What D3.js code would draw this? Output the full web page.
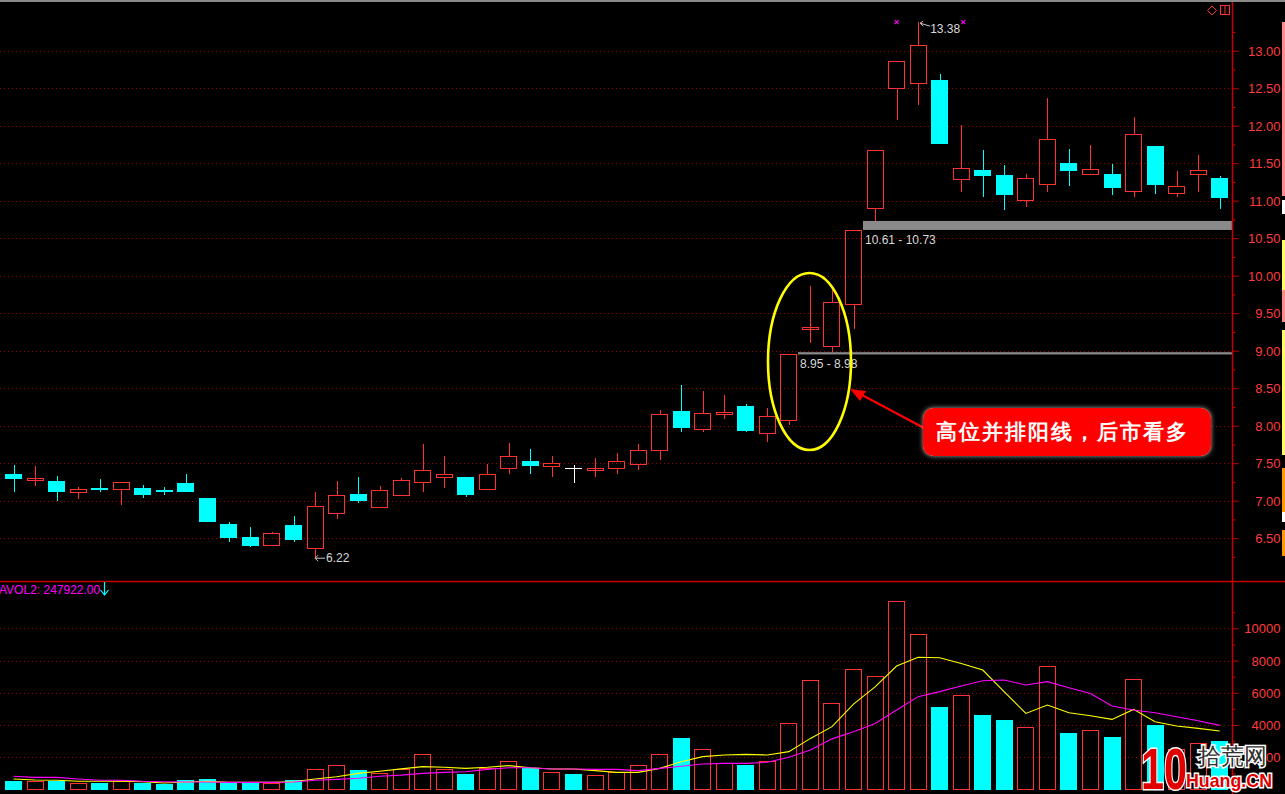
<!DOCTYPE html>
<html>
<head>
<meta charset="utf-8">
<script src="https://cdn.jsdelivr.net/npm/d3@7/dist/d3.min.js"></script>
<style>
  html, body { margin: 0; padding: 0; background: #000; overflow: hidden; }
  svg { display: block; }
  text { font-family: "Liberation Sans", Arial, sans-serif; }
</style>
</head>
<body>
<svg id="chart" width="1285" height="794"></svg>
<script>
// ---------------- DATA ----------------
const openP  = [7.36,7.29,7.26,7.11,7.17,7.15,7.17,7.14,7.24,7.04,6.69,6.52,6.41,6.68,6.37,6.83,7.09,6.91,7.08,7.25,
                7.31,7.31,7.16,7.44,7.53,7.46,7.44,7.42,7.43,7.49,7.67,8.19,7.96,8.16,8.26,7.90,8.08,9.30,9.06,9.62,
                10.90,12.50,12.57,12.61,11.29,11.41,11.34,11.01,11.22,11.50,11.35,11.36,11.13,11.73,11.10,11.35,11.30];
const highP  = [7.48,7.46,7.33,7.18,7.29,7.25,7.21,7.18,7.36,7.04,6.72,6.65,6.58,6.80,7.12,7.26,7.31,7.20,7.30,7.76,
                7.59,7.31,7.49,7.77,7.69,7.59,7.47,7.57,7.64,7.76,8.21,8.54,8.46,8.41,8.29,8.24,8.95,9.86,9.81,10.61,
                11.68,12.86,13.38,12.69,12.01,11.68,11.48,11.36,12.37,11.69,11.74,11.49,12.11,11.73,11.39,11.61,11.33];
const lowP   = [7.11,7.19,7.00,7.02,7.12,6.94,7.04,7.08,7.11,6.71,6.45,6.38,6.41,6.45,6.22,6.76,6.97,6.91,7.08,7.11,
                7.17,7.05,7.15,7.36,7.36,7.31,7.23,7.31,7.36,7.41,7.54,7.91,7.91,8.09,7.92,7.78,8.01,9.10,8.98,9.29,
                10.73,12.07,12.28,11.76,11.12,11.05,10.87,10.92,11.12,11.20,11.35,11.08,11.05,11.09,11.05,11.11,10.89];
const closeP = [7.29,7.30,7.11,7.15,7.14,7.25,7.08,7.11,7.11,6.72,6.50,6.40,6.57,6.47,6.93,7.08,6.99,7.14,7.27,7.41,
                7.35,7.07,7.36,7.59,7.46,7.50,7.44,7.44,7.53,7.68,8.15,7.97,8.17,8.18,7.93,8.13,8.95,9.32,9.65,10.61,
                11.68,12.86,13.08,11.76,11.44,11.33,11.08,11.30,11.82,11.40,11.42,11.17,11.89,11.21,11.20,11.41,11.04];
const volume = [527,527,527,403,403,527,403,341,590,651,403,403,403,590,1250,1500,1210,1000,1250,2190,
                1250,960,1310,1750,1350,1065,960,900,1065,1500,2190,3200,2490,1625,1520,1750,4110,6780,5350,7450,
                7020,11670,9620,5120,5840,4620,4310,3860,7640,3500,3670,3260,6830,4000,2500,2870,3000];
const volMA5  = [650,590,570,510,510,510,480,400,465,510,445,445,445,480,650,795,1000,1130,1280,1420,
                 1380,1310,1380,1480,1350,1270,1270,1170,1060,1060,1310,1720,2040,2140,2180,2140,2350,3170,3900,5300,
                 6370,7660,8200,8170,7820,7410,6060,4720,5240,4760,4580,4350,4970,4200,3940,3790,3630];
const volMA10 = [820,755,755,650,570,570,510,480,465,465,445,445,445,465,570,630,695,820,890,1000,
                 1060,1100,1250,1350,1350,1270,1270,1250,1250,1170,1310,1440,1580,1620,1620,1690,2000,2450,3140,3580,
                 4100,4930,5760,6070,6420,6750,6790,6480,6690,6310,5960,5180,4930,4760,4510,4270,3980];
const priceTicks = [6.5,7.0,7.5,8.0,8.5,9.0,9.5,10.0,10.5,11.0,11.5,12.0,12.5,13.0];
const priceMinorTicks = [6.25,6.75,7.25,7.75,8.25,8.75,9.25,9.75,10.25,10.75,11.25,11.75,12.25,12.75,13.25];
const volTicks = [2000,4000,6000,8000,10000];
const volMinorTicks = [1000,3000,5000,7000,9000,11000];
const gapBands = [ {lo: 8.95, hi: 8.98, from: 36, label: "8.95 - 8.98"},
                   {lo: 10.61, hi: 10.73, from: 39, label: "10.61 - 10.73"} ];
const maxIdx = 42, minIdx = 14;
const volLabel = "AVOL2: 247922.00";
const calloutText = "高位并排阳线，后市看多";

// ---------------- SETUP ----------------
const W = 1285, H = 794;
const svg = d3.select("#chart");
const RED = "#ff3232", CYAN = "#00ffff", GRID = "#a00000", AXIS = "#c80000", LABEL = "#ff3c3c";
const n = openP.length;
const x = d3.scalePoint().domain(d3.range(n)).range([13.5, 1219.7]);
const y = d3.scaleLinear().domain([6.5, 13]).range([538.2, 50.7]);
const yv = d3.scaleLinear().domain([0, 10000]).range([789.5, 628.3]);
const axisX = 1232.5;
const BW = 17;

svg.append("rect").attr("width", W).attr("height", H).attr("fill", "#000");
svg.append("rect").attr("x", 0).attr("y", 0).attr("width", W).attr("height", 2).attr("fill", "#8a8a8a");

// grid lines
const grid = svg.append("g").attr("shape-rendering", "crispEdges");
grid.selectAll("line.pg").data(priceTicks).join("line")
  .attr("x1", 0).attr("x2", axisX - 1)
  .attr("y1", d => Math.round(y(d)) + 0.5).attr("y2", d => Math.round(y(d)) + 0.5)
  .attr("stroke", GRID).attr("stroke-dasharray", "1,3");
grid.selectAll("line.vg").data(volTicks).join("line")
  .attr("x1", 0).attr("x2", axisX - 1)
  .attr("y1", d => Math.round(yv(d)) + 0.5).attr("y2", d => Math.round(yv(d)) + 0.5)
  .attr("stroke", GRID).attr("stroke-dasharray", "1,3");

// panel separator
svg.append("line").attr("x1", 0).attr("x2", W).attr("y1", 581.5).attr("y2", 581.5)
  .attr("stroke", AXIS).attr("stroke-width", 1.5);

// gap bands
const bands = svg.append("g");
gapBands.forEach(b => {
  const x0 = Math.round(x(b.from) + BW / 2) + 1;
  const yTop = y(b.hi), yBot = y(b.lo);
  bands.append("rect").attr("x", x0).attr("y", yTop)
    .attr("width", axisX - x0).attr("height", Math.max(1.2, yBot - yTop))
    .attr("fill", "#8a8a8a");
  bands.append("text").attr("x", x0 + 2).attr("y", yBot + 14)
    .attr("fill", "#d8d8d8").attr("font-size", 12).text(b.label);
});

// candles
const cg = svg.append("g").attr("shape-rendering", "crispEdges");
d3.range(n).forEach(i => {
  const o = openP[i], c = closeP[i], h = highP[i], l = lowP[i];
  const cx = Math.round(x(i)) + 0.5;
  const left = Math.round(x(i) - BW / 2);
  const yTop = Math.round(y(Math.max(o, c))), yBot = Math.round(y(Math.min(o, c)));
  if (c > o) {
    if (y(h) < yTop) cg.append("line").attr("x1", cx).attr("x2", cx).attr("y1", y(h)).attr("y2", yTop).attr("stroke", RED).attr("stroke-width", 1.3);
    if (y(l) > yBot) cg.append("line").attr("x1", cx).attr("x2", cx).attr("y1", yBot).attr("y2", y(l)).attr("stroke", RED).attr("stroke-width", 1.3);
    cg.append("rect").attr("x", left + 0.5).attr("y", yTop + 0.5)
      .attr("width", BW - 1).attr("height", Math.max(2, yBot - yTop))
      .attr("fill", "none").attr("stroke", RED).attr("stroke-width", 1.3);
  } else if (c < o) {
    cg.append("line").attr("x1", cx).attr("x2", cx).attr("y1", y(h)).attr("y2", y(l)).attr("stroke", CYAN).attr("stroke-width", 1.3);
    cg.append("rect").attr("x", left).attr("y", yTop)
      .attr("width", BW).attr("height", Math.max(2, yBot - yTop)).attr("fill", CYAN);
  } else {
    cg.append("line").attr("x1", cx).attr("x2", cx).attr("y1", y(h)).attr("y2", y(l)).attr("stroke", "#fff").attr("stroke-width", 1.3);
    cg.append("line").attr("x1", left).attr("x2", left + BW).attr("y1", yTop + 0.5).attr("y2", yTop + 0.5).attr("stroke", "#fff").attr("stroke-width", 1.3);
  }
});

// high / low marks
const hx = x(maxIdx), hy = y(highP[maxIdx]);
svg.append("path").attr("d", `M${hx + 2},${hy + 1} l10,3 M${hx + 2},${hy + 1} l3,-2 M${hx + 2},${hy + 1} l3,3`)
  .attr("stroke", "#c8c8c8").attr("fill", "none");
svg.append("text").attr("x", hx + 12).attr("y", hy + 11).attr("fill", "#d8d8d8").attr("font-size", 12)
  .text(highP[maxIdx].toFixed(2));
[x(maxIdx - 1), x(maxIdx + 2) + 2].forEach(px => {
  svg.append("path").attr("d", `M${px - 2},${hy - 2} l4,4 M${px + 2},${hy - 2} l-4,4`)
    .attr("stroke", "#ff00ff").attr("stroke-width", 1.2);
});
const lx = x(minIdx), ly = y(lowP[minIdx]);
svg.append("path").attr("d", `M${lx},${ly - 1} h10 M${lx},${ly - 1} l3,-3 M${lx},${ly - 1} l3,3`)
  .attr("stroke", "#c8c8c8").attr("fill", "none");
svg.append("text").attr("x", lx + 11).attr("y", ly + 3).attr("fill", "#d8d8d8").attr("font-size", 12)
  .text(lowP[minIdx].toFixed(2));

// volume bars
const vg = svg.append("g").attr("shape-rendering", "crispEdges");
d3.range(n).forEach(i => {
  const left = Math.round(x(i) - BW / 2);
  const top = Math.round(yv(volume[i]));
  const bottom = 790;
  if (closeP[i] > openP[i]) {
    vg.append("rect").attr("x", left + 0.5).attr("y", top + 0.5)
      .attr("width", BW - 1).attr("height", bottom - top - 1)
      .attr("fill", "none").attr("stroke", RED).attr("stroke-width", 1.3);
  } else {
    vg.append("rect").attr("x", left).attr("y", top)
      .attr("width", BW).attr("height", bottom - top).attr("fill", CYAN);
  }
});
const line = arr => d3.line().x((d, i) => x(i)).y(d => yv(d))(arr);
svg.append("path").attr("d", line(volMA5)).attr("fill", "none").attr("stroke", "#ffff00").attr("stroke-width", 1.1);
svg.append("path").attr("d", line(volMA10)).attr("fill", "none").attr("stroke", "#ff00ff").attr("stroke-width", 1.1);

// volume label
svg.append("text").attr("x", -1).attr("y", 594).attr("fill", "#ff00ff").attr("font-size", 12).text(volLabel);
svg.append("path").attr("d", "M104.5,582 V594 M100.5,590 L104.5,595 L108.5,590")
  .attr("stroke", CYAN).attr("fill", "none").attr("stroke-width", 1.2);

// axes
svg.append("rect").attr("x", axisX + 1).attr("y", 2).attr("width", W - axisX).attr("height", H).attr("fill", "#000");
svg.append("line").attr("x1", axisX).attr("x2", axisX).attr("y1", 2).attr("y2", H).attr("stroke", AXIS).attr("stroke-width", 1.5);
svg.append("line").attr("x1", axisX).attr("x2", W).attr("y1", 581.5).attr("y2", 581.5).attr("stroke", AXIS).attr("stroke-width", 1.5);

const pAxis = d3.axisRight(y).tickValues(priceTicks).tickSize(6).tickPadding(8).tickFormat(d => d.toFixed(2));
const pAxisMinor = d3.axisRight(y).tickValues(priceMinorTicks).tickSize(3).tickFormat("");
const vAxis = d3.axisRight(yv).tickValues(volTicks).tickSize(6).tickPadding(8).tickFormat(d3.format("d"));
const vAxisMinor = d3.axisRight(yv).tickValues(volMinorTicks).tickSize(3).tickFormat("");
[pAxis, pAxisMinor, vAxis, vAxisMinor].forEach(ax => {
  const g = svg.append("g").attr("transform", `translate(${axisX},0)`).call(ax);
  g.select(".domain").remove();
  g.selectAll("line").attr("stroke", AXIS);
  g.selectAll("text").attr("fill", LABEL).attr("font-size", 13).attr("font-family", "Liberation Sans, Arial, sans-serif")
    .attr("text-anchor", "end").attr("x", 48).attr("dy", "0.35em");
});

// right colored strip
const strip = [[22,196,"#ff8c8c"],[200,214,"#ffffff"],[240,290,"#ffff66"],[290,322,"#ff8c8c"],[330,455,"#ffff66"],[468,512,"#ff9900"],[512,522,"#ffffff"],[530,556,"#ff9900"]];
strip.forEach(([a, b, col]) => svg.append("rect").attr("x", 1282).attr("y", a).attr("width", 3).attr("height", b - a).attr("fill", col));

// top-right icons
svg.append("path").attr("d", "M1212,6 L1216.5,10.5 L1212,15 L1207.5,10.5 Z").attr("fill", "none").attr("stroke", RED);
svg.append("rect").attr("x", 1220.5).attr("y", 5.5).attr("width", 9).attr("height", 9).attr("fill", "none").attr("stroke", RED);
svg.append("line").attr("x1", 1225).attr("x2", 1225).attr("y1", 5.5).attr("y2", 14.5).attr("stroke", RED);

// ellipse highlight
svg.append("ellipse").attr("cx", 809.5).attr("cy", 361.5).attr("rx", 41.5).attr("ry", 88.5)
  .attr("fill", "none").attr("stroke", "#ffff00").attr("stroke-width", 2.6);

// arrow
const defs = svg.append("defs");
const f = defs.append("filter").attr("id", "glow").attr("x", "-10%").attr("y", "-30%").attr("width", "120%").attr("height", "160%");
f.append("feDropShadow").attr("dx", 0).attr("dy", 0).attr("stdDeviation", 2.5).attr("flood-color", "#bbbbbb").attr("flood-opacity", 0.9);
svg.append("line").attr("x1", 924).attr("y1", 428).attr("x2", 862).attr("y2", 395)
  .attr("stroke", "#ff0000").attr("stroke-width", 2.2);
svg.append("path").attr("d", "M850,389 L866,391 L860,401 Z").attr("fill", "#ff0000");

// callout
svg.append("rect").attr("x", 923).attr("y", 408).attr("width", 288).attr("height", 48).attr("rx", 10)
  .attr("fill", "#ff0000").attr("filter", "url(#glow)");
svg.append("text").attr("x", 936).attr("y", 439).attr("fill", "#fff")
  .attr("font-family", "'Noto Sans CJK SC', sans-serif").attr("font-weight", "bold")
  .attr("font-size", 20.5).attr("letter-spacing", 2).text(calloutText);

// watermark
const wm = svg.append("g");
wm.append("text").attr("x", 1141).attr("y", 789).attr("font-size", 58).attr("font-weight", "bold")
  .attr("font-family", "'DejaVu Sans', sans-serif").attr("textLength", 46).attr("lengthAdjust", "spacingAndGlyphs")
  .attr("fill", "#e00000").attr("stroke", "#fff").attr("stroke-width", 3).attr("paint-order", "stroke")
  .text("10");
wm.append("text").attr("x", 1198).attr("y", 764).attr("font-size", 23)
  .attr("font-family", "'Noto Sans CJK SC', sans-serif")
  .attr("fill", "#303030").attr("stroke", "#fff").attr("stroke-width", 3).attr("paint-order", "stroke").text("拾荒网");
wm.append("text").attr("x", 1186).attr("y", 787).attr("font-size", 19).attr("font-weight", "bold")
  .attr("font-family", "'Liberation Sans', Arial, sans-serif").attr("textLength", 86).attr("lengthAdjust", "spacingAndGlyphs")
  .attr("fill", "#e00000").attr("stroke", "#fff").attr("stroke-width", 3).attr("paint-order", "stroke").text("Huang.CN");
</script>
</body>
</html>
